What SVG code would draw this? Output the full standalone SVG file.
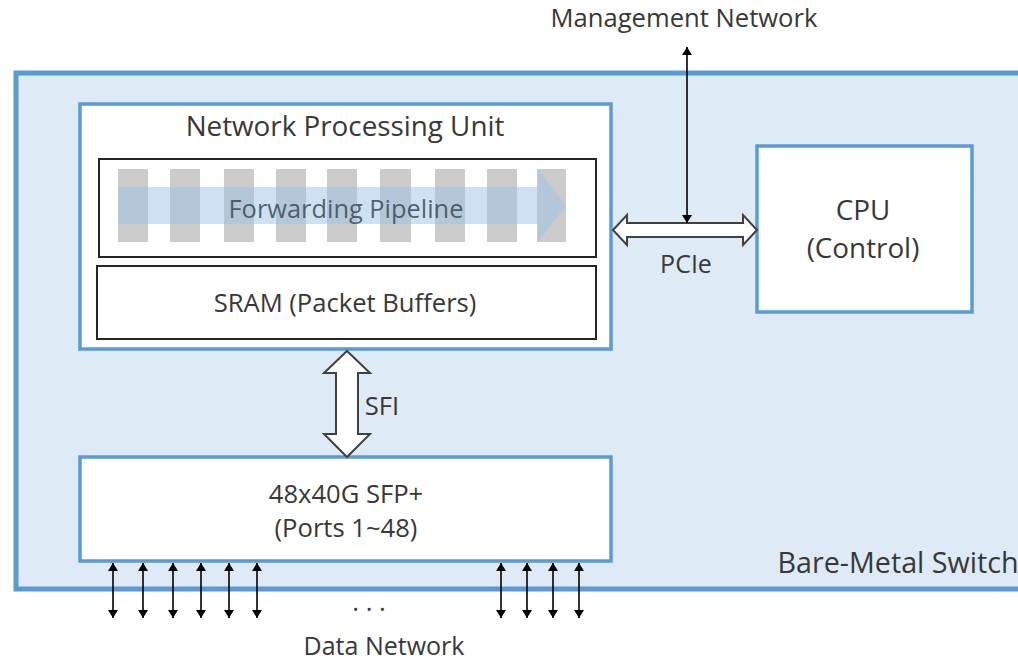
<svg xmlns="http://www.w3.org/2000/svg" width="1018" height="663" viewBox="0 0 1018 663">
<defs>
<style>
text{font-family:"Open Sans","Liberation Sans",sans-serif;fill:#383838;text-anchor:middle}
.lbl{font-size:25.6px}
.big{font-size:27.8px}
.sm{font-size:25.6px}
.blue{fill:#fff;stroke:#5B9BD5;stroke-width:3.5}
.inner{fill:#fff;stroke:#262626;stroke-width:2}
.bar{fill:#CBCBCB}
.fat{fill:#fff;stroke:#404040;stroke-width:2;stroke-linejoin:miter}
.thin{stroke:#000;stroke-width:1.6;fill:none;marker-start:url(#ah);marker-end:url(#ah)}
</style>
<marker id="ah" viewBox="0 0 10 10" refX="10" refY="5" markerWidth="8" markerHeight="10" markerUnits="userSpaceOnUse" orient="auto-start-reverse" preserveAspectRatio="none">
<path d="M0,0 L10,5 L0,10 z" fill="#000"/>
</marker>
</defs>

<g id="switch">
<rect x="16" y="73" width="1010" height="516" fill="#DEEAF6" stroke="#5B9BD5" stroke-width="5"/>
<text x="898" y="573" style="font-size:28.7px">Bare-Metal Switch</text>
</g>

<g id="npu">
<rect class="blue" x="80" y="104" width="531" height="245"/>
<text class="big" x="345" y="136">Network Processing Unit</text>
</g>

<g id="pipeline">
<rect class="inner" x="99" y="159" width="497" height="98"/>
<rect class="bar" x="118" y="169" width="30" height="73"/>
<rect class="bar" x="170" y="169" width="30" height="73"/>
<rect class="bar" x="224" y="169" width="30" height="73"/>
<rect class="bar" x="276" y="169" width="30" height="73"/>
<rect class="bar" x="327" y="169" width="30" height="73"/>
<rect class="bar" x="380" y="169" width="31" height="73"/>
<rect class="bar" x="435" y="169" width="30" height="73"/>
<rect class="bar" x="487" y="169" width="30" height="73"/>
<rect class="bar" x="537" y="169" width="29" height="73"/>
<path d="M118,187 L538,187 L538,169 L566,205.5 L538,242 L538,224 L118,224 z" fill="#9DC3E6" fill-opacity="0.5"/>
<text x="346" y="218" style="font-size:25.4px;fill:#3B4A5A;fill-opacity:0.85">Forwarding Pipeline</text>
</g>

<g id="sram">
<rect class="inner" x="97" y="266" width="499" height="73"/>
<text class="lbl" x="345" y="312">SRAM (Packet Buffers)</text>
</g>

<g id="cpu">
<rect class="blue" x="757" y="146" width="215" height="166"/>
<text class="big" x="863" y="220">CPU</text>
<text class="big" x="863" y="258">(Control)</text>
</g>

<g id="ports">
<rect class="blue" x="80" y="457" width="531" height="104"/>
<text class="lbl" x="346" y="503">48x40G SFP+</text>
<text class="lbl" x="346" y="537">(Ports 1~48)</text>
</g>

<g id="mgmt">
<text class="sm" x="684" y="27">Management Network</text>
</g>

<g id="data">
<text class="sm" x="369" y="611">. . .</text>
<text x="384" y="655" style="font-size:25px">Data Network</text>
</g>

<g id="connectors">
<path class="fat" d="M613,230 L627,215 L627,223 L743,223 L743,215 L757,230 L743,245 L743,237 L627,237 L627,245 Z"/>
<text x="686" y="273" style="font-size:25px">PCIe</text>
<line class="thin" x1="687" y1="47" x2="687" y2="223"/>
<path class="fat" d="M347,351 L370,373 L358,373 L358,434 L370,434 L347,457 L324,434 L336,434 L336,373 L324,373 Z"/>
<text class="lbl" x="382" y="415">SFI</text>
<line class="thin" x1="113" y1="563" x2="113" y2="618"/>
<line class="thin" x1="143" y1="563" x2="143" y2="618"/>
<line class="thin" x1="173" y1="563" x2="173" y2="618"/>
<line class="thin" x1="201" y1="563" x2="201" y2="618"/>
<line class="thin" x1="229" y1="563" x2="229" y2="618"/>
<line class="thin" x1="257" y1="563" x2="257" y2="618"/>
<line class="thin" x1="501" y1="563" x2="501" y2="618"/>
<line class="thin" x1="527" y1="563" x2="527" y2="618"/>
<line class="thin" x1="553" y1="563" x2="553" y2="618"/>
<line class="thin" x1="579" y1="563" x2="579" y2="618"/>
</g>
</svg>
